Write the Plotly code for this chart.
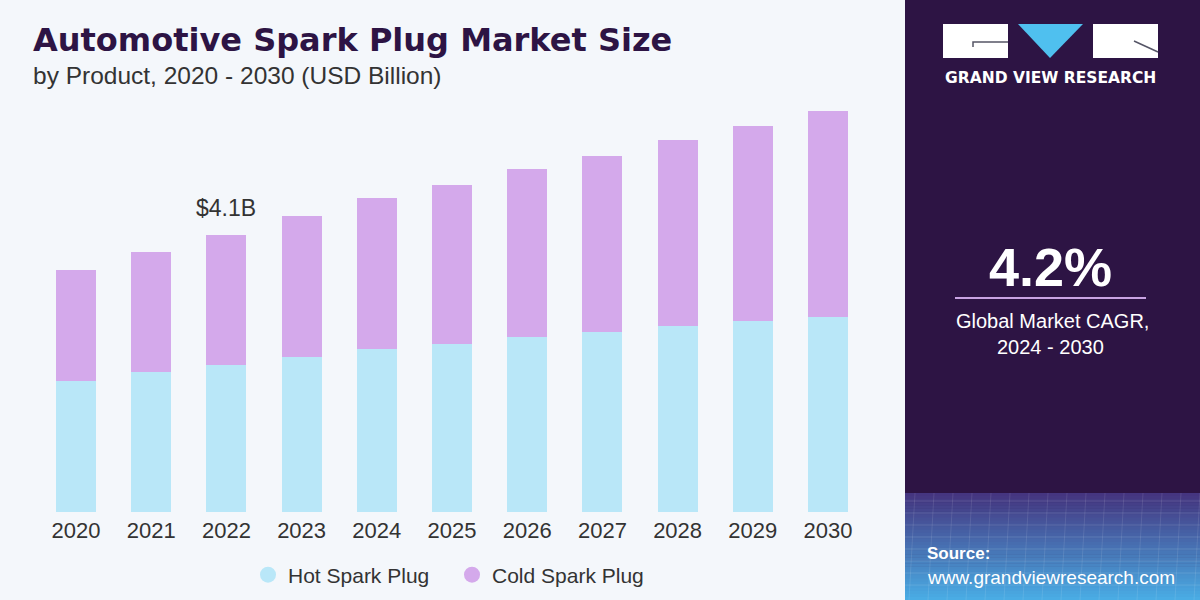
import plotly.graph_objects as go

years = ["2020", "2021", "2022", "2023", "2024", "2025", "2026", "2027", "2028", "2029", "2030"]
hot_spark_plug = [1.94, 2.07, 2.18, 2.29, 2.41, 2.49, 2.59, 2.67, 2.75, 2.82, 2.89]
cold_spark_plug = [1.64, 1.78, 1.92, 2.09, 2.24, 2.35, 2.48, 2.60, 2.75, 2.89, 3.04]
series_names = ["Hot Spark Plug", "Cold Spark Plug"]
highlight_year = "2022"
highlight_label = "$4.1B"
cagr_value = "4.2%"
cagr_text = ["Global Market CAGR,", "2024 - 2030"]

W, H = 1200, 600
HOT_C = "#b9e7f8"
COLD_C = "#d4a9eb"
BG = "#f4f7fb"
PURPLE = "#2d1444"
FONT = "Liberation Sans"


def px(x):
    return x / W


def py(y):
    return 1 - y / H


fig = go.Figure()
fig.add_trace(go.Bar(x=years, y=hot_spark_plug, name=series_names[0],
                     marker=dict(color=HOT_C, line=dict(width=0)), showlegend=False))
fig.add_trace(go.Bar(x=years, y=cold_spark_plug, name=series_names[1],
                     marker=dict(color=COLD_C, line=dict(width=0)), showlegend=False))
# legend entries with round markers
for nm, c in zip(series_names, [HOT_C, COLD_C]):
    fig.add_trace(go.Scatter(x=[None], y=[None], mode="markers", name=nm,
                             marker=dict(color=c, size=16, symbol="circle")))

shapes = []
# right panel
shapes.append(dict(type="rect", xref="paper", yref="paper", x0=px(905), x1=1, y0=0, y1=1,
                   fillcolor=PURPLE, line=dict(width=0), layer="below"))
# gradient bottom region
top_rgb = (0x45, 0x35, 0x80)
bot_rgb = (0x4a, 0xac, 0xe4)
n = 35
y_start = 493
for i in range(n):
    t = i / (n - 1)
    r = int(top_rgb[0] + (bot_rgb[0] - top_rgb[0]) * t)
    g = int(top_rgb[1] + (bot_rgb[1] - top_rgb[1]) * t)
    b = int(top_rgb[2] + (bot_rgb[2] - top_rgb[2]) * t)
    y0 = y_start + (600 - y_start) * i / n
    y1 = y_start + (600 - y_start) * (i + 1) / n
    shapes.append(dict(type="rect", xref="paper", yref="paper", x0=px(905), x1=1,
                       y0=py(y1 + 0.5), y1=py(y0), fillcolor=f"rgb({r},{g},{b})",
                       line=dict(width=0), layer="below"))
# faint grid lines in the gradient region
for k in range(8):
    yy = y_start + 8 + k * 12
    shapes.append(dict(type="line", xref="paper", yref="paper", x0=px(905), x1=1,
                       y0=py(yy), y1=py(yy), line=dict(color="rgba(255,255,255,0.12)", width=1)))
for k in range(16):
    xx = 915 + k * 19
    shapes.append(dict(type="line", xref="paper", yref="paper", x0=px(xx), x1=px(xx - 6),
                       y0=py(y_start), y1=0, line=dict(color="rgba(255,255,255,0.10)", width=1)))

# logo
shapes.append(dict(type="rect", xref="paper", yref="paper", x0=px(943), x1=px(1008),
                   y0=py(58), y1=py(24), fillcolor="white", line=dict(width=0)))
shapes.append(dict(type="path", xref="paper", yref="paper",
                   path=f"M {px(1018)},{py(24)} L {px(1083)},{py(24)} L {px(1050)},{py(58)} Z",
                   fillcolor="#4fc0ef", line=dict(width=0)))
shapes.append(dict(type="rect", xref="paper", yref="paper", x0=px(1093), x1=px(1158),
                   y0=py(58), y1=py(24), fillcolor="white", line=dict(width=0)))
shapes.append(dict(type="path", xref="paper", yref="paper",
                   path=f"M {px(973)},{py(47)} L {px(973)},{py(42)} L {px(1008)},{py(42)}",
                   line=dict(color="#555566", width=1.5)))
shapes.append(dict(type="line", xref="paper", yref="paper", x0=px(1134), y0=py(41),
                   x1=px(1158), y1=py(52), line=dict(color="#555566", width=1.5)))
# CAGR divider
shapes.append(dict(type="line", xref="paper", yref="paper", x0=px(955), x1=px(1146),
                   y0=py(298), y1=py(298), line=dict(color="#c9a3e3", width=2)))

hi = years.index(highlight_year)
annotations = [
    dict(text="<b>Automotive Spark Plug Market Size</b>", x=px(31), y=py(40), xref="paper", yref="paper",
         xanchor="left", yanchor="middle", showarrow=False,
         font=dict(family="DejaVu Sans", size=32, color="#2d1444")),
    dict(text="by Product, 2020 - 2030 (USD Billion)", x=px(31), y=py(75), xref="paper", yref="paper",
         xanchor="left", yanchor="middle", showarrow=False,
         font=dict(family=FONT, size=24.5, color="#333333")),
    dict(text=highlight_label, x=hi,
         y=hot_spark_plug[hi] + cold_spark_plug[hi],
         xref="x", yref="y", yshift=27, showarrow=False,
         font=dict(family=FONT, size=23, color="#333333")),
    dict(text="<b>GRAND VIEW RESEARCH</b>", x=px(1050.5), y=py(78), xref="paper", yref="paper",
         xanchor="center", yanchor="middle", showarrow=False,
         font=dict(family="DejaVu Sans", size=15.5, color="white")),
    dict(text=f"<b>{cagr_value}</b>", x=px(1050), y=py(267), xref="paper", yref="paper",
         xanchor="center", yanchor="middle", showarrow=False,
         font=dict(family=FONT, size=54, color="white")),
    dict(text=cagr_text[0], x=px(1052), y=py(321), xref="paper", yref="paper",
         xanchor="center", yanchor="middle", showarrow=False,
         font=dict(family=FONT, size=20, color="white")),
    dict(text=cagr_text[1], x=px(1050), y=py(347), xref="paper", yref="paper",
         xanchor="center", yanchor="middle", showarrow=False,
         font=dict(family=FONT, size=20, color="white")),
    dict(text="<b>Source:</b>", x=px(925), y=py(553), xref="paper", yref="paper",
         xanchor="left", yanchor="middle", showarrow=False,
         font=dict(family=FONT, size=17, color="white")),
    dict(text="www.grandviewresearch.com", x=px(925), y=py(577), xref="paper", yref="paper",
         xanchor="left", yanchor="middle", showarrow=False,
         font=dict(family=FONT, size=19, color="white")),
]

fig.update_layout(
    width=W, height=H, barmode="stack", bargap=0.47,
    margin=dict(l=0, r=0, t=0, b=0, autoexpand=False),
    paper_bgcolor=BG, plot_bgcolor=BG,
    xaxis=dict(type="category", domain=[px(38.4), px(865.6)], range=[-0.5, 10.5],
               showgrid=False, zeroline=False, showline=False, automargin=False,
               ticks="", ticklabelstandoff=3,
               tickfont=dict(family=FONT, size=22, color="#333333"), fixedrange=True),
    yaxis=dict(domain=[py(512), py(100)], range=[0, 412 / 67.56], visible=False,
               automargin=False, fixedrange=True),
    legend=dict(orientation="h", x=px(248), y=py(575), xanchor="left", yanchor="middle",
                font=dict(family=FONT, size=21, color="#333333"), bgcolor="rgba(0,0,0,0)",
                traceorder="normal", entrywidth=159, entrywidthmode="pixels", itemclick=False),
    shapes=shapes, annotations=annotations, showlegend=True,
)

fig.write_html("out.html")
